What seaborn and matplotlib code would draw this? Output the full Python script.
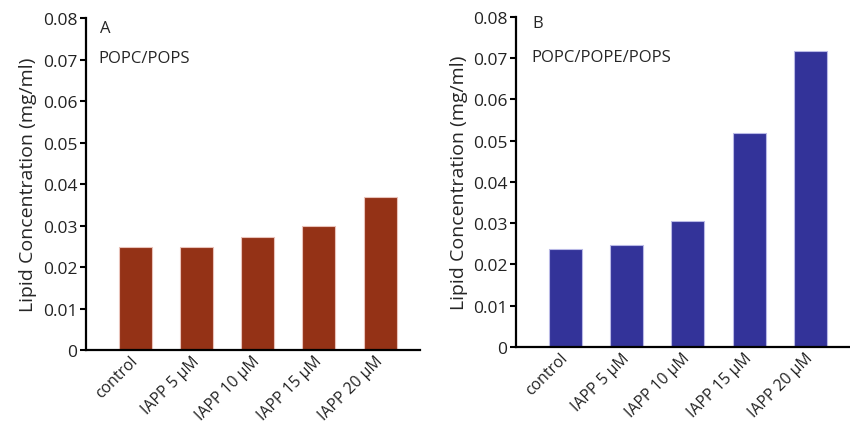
# リポジトリ風: 2パネルの脂質濃度棒グラフ (A: POPC/POPS, B: POPC/POPE/POPS)

import matplotlib
matplotlib.use("Agg")
import matplotlib.pyplot as plt
from matplotlib.transforms import ScaledTranslation
import pandas as pd
import seaborn as sns


# ======================== データ ========================
CONDITIONS = ["control", "IAPP 5 μM", "IAPP 10 μM", "IAPP 15 μM", "IAPP 20 μM"]
VALUES_A = [0.0249, 0.0249, 0.0272, 0.0299, 0.0368]
VALUES_B = [0.0238, 0.0248, 0.0305, 0.0518, 0.0718]
Y_TICKS = [0, 0.01, 0.02, 0.03, 0.04, 0.05, 0.06, 0.07, 0.08]
Y_TICK_LABELS = ["0", "0.01", "0.02", "0.03", "0.04", "0.05", "0.06", "0.07", "0.08"]

COLOR_A = "#943216"
EDGE_A = "#e9c3ba"
COLOR_B = "#333399"
EDGE_B = "#b9b9e6"


def setup_plot_style() -> None:
    sns.set_theme(style="white")
    plt.rcParams["font.family"] = ["Open Sans", "DejaVu Sans"]
    plt.rcParams["axes.unicode_minus"] = False


def draw_panel(fig, ax, values, color, edge, letter, lipid, letter_y, lipid_y, text_x) -> None:
    df = pd.DataFrame({"condition": CONDITIONS, "value": values})
    sns.barplot(
        data=df,
        x="condition",
        y="value",
        order=CONDITIONS,
        color=color,
        edgecolor=edge,
        linewidth=0.8,
        width=0.54,
        saturation=1,
        ax=ax,
    )
    ax.set_xlim(-0.81, 4.65)
    ax.set_ylim(0, 0.08)
    ax.set_yticks(Y_TICKS)
    ax.set_yticklabels(Y_TICK_LABELS, fontsize=12.5, color="#222222")
    ax.set_xticks(range(len(CONDITIONS)))
    ax.set_xticklabels(
        CONDITIONS, rotation=45, ha="right", va="center", rotation_mode="anchor",
        fontsize=11.3, color="#222222",
    )
    # 回転ラベルを棒の中心付近へ寄せる
    offset = ScaledTranslation(10 / 72, 0, fig.dpi_scale_trans)
    for label in ax.get_xticklabels():
        label.set_transform(label.get_transform() + offset)
    ax.tick_params(axis="y", direction="out", length=4, width=1.5, color="black", pad=2, left=True)
    ax.tick_params(axis="x", length=0, pad=6)
    ax.set_xlabel("")
    ax.set_ylabel("Lipid Concentration (mg/ml)", fontsize=14, labelpad=4)
    sns.despine(ax=ax)
    for side in ["left", "bottom"]:
        ax.spines[side].set_color("black")
        ax.spines[side].set_linewidth(1.6)
    ax.text(text_x, letter_y, letter, transform=ax.transAxes, fontsize=12, va="center", ha="left")
    ax.text(text_x - 0.004, lipid_y, lipid, transform=ax.transAxes, fontsize=12, va="center", ha="left")


if __name__ == "__main__":
    setup_plot_style()
    fig = plt.figure(figsize=(8.5, 4.27), dpi=100)
    ax_a = fig.add_axes([0.101, 0.178, 0.393, 0.777])
    ax_b = fig.add_axes([0.607, 0.185, 0.393, 0.773])

    draw_panel(fig, ax_a, VALUES_A, COLOR_A, EDGE_A, "A", "POPC/POPS", 0.972, 0.88, 0.042)
    draw_panel(fig, ax_b, VALUES_B, COLOR_B, EDGE_B, "B", "POPC/POPE/POPS", 0.982, 0.878, 0.05)

    fig.savefig("out.png", dpi=100)
    plt.close(fig)
